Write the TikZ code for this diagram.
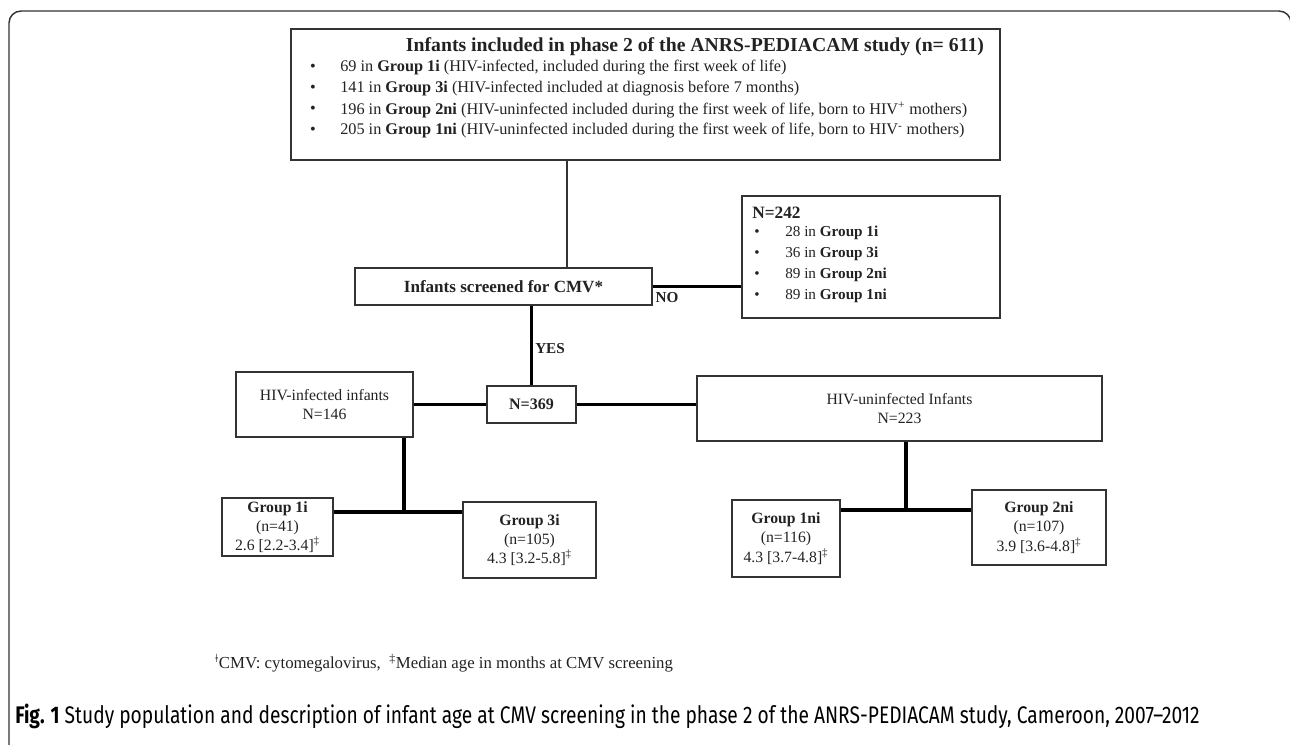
\documentclass[tikz,border=0pt]{standalone}
\usepackage{fontspec}
\setmainfont{Liberation Serif}
\newfontfamily\capfont[FakeStretch=0.80]{Fira Sans}
\usetikzlibrary{fit,calc}
\definecolor{ink}{HTML}{222222}
\definecolor{edge}{HTML}{333333}
\begin{document}
\begin{tikzpicture}[x=0.75pt,y=-0.75pt,
  box/.style={draw=edge,line width=1.1pt,inner sep=0pt},
  txt/.style={text=ink,inner sep=0pt,font=\fontsize{11.4}{14}\selectfont},
  toptxt/.style={txt,font=\fontsize{12.2}{15}\selectfont},
  bold/.style={txt,font=\fontsize{11.4}{14}\selectfont\bfseries},
  grp/.style={txt,align=center,font=\fontsize{11.8}{14.4}\selectfont},
  thinline/.style={draw=edge,line width=1.1pt},
  thickline/.style={draw=black,line width=2.6pt}]
\useasboundingbox (0,0) rectangle (1290,744);
% outer frame
\draw[draw=edge,line width=1.1pt,rounded corners=9pt] (9,760) -- (9,11) -- (1291,11) -- (1291,760);
% boxes
\node[box,fit={(291,29) (1000,160)}] (top) {};
\node[box,fit={(355,268) (652,305)}] (cmv) {};
\node[box,fit={(742,196) (1000,318)}] (n242) {};
\node[box,fit={(487,386) (576,423)}] (n369) {};
\node[box,fit={(236,372) (413,437)}] (hivi) {};
\node[box,fit={(697,376) (1102,441)}] (hivu) {};
\node[box,fit={(222,498) (333,556)}] (g1i) {};
\node[box,fit={(463,502) (596,578)}] (g3i) {};
\node[box,fit={(732,500) (840,577)}] (g1ni) {};
\node[box,fit={(972,490) (1106,565)}] (g2ni) {};
% top box text
\node[txt,font=\fontsize{14.8}{17}\selectfont\bfseries] (title) at (695,47) {Infants included in phase 2 of the ANRS-PEDIACAM study (n= 611)};
\foreach \i/\y in {1/68,2/89,3/110,4/131}{\node[toptxt] (dot\i) at (313,\y) {\textbullet};}
\node[toptxt,anchor=west] (b1) at (340,68) {69 in \textbf{Group 1i} (HIV-infected, included during the first week of life)};
\node[toptxt,anchor=west] (b2) at (340,89) {141 in \textbf{Group 3i} (HIV-infected included at diagnosis before 7 months)};
\node[toptxt,anchor=west] (b3) at (340,110) {196 in \textbf{Group 2ni} (HIV-uninfected included during the first week of life, born to HIV\textsuperscript{+} mothers)};
\node[toptxt,anchor=west] (b4) at (340,131) {205 in \textbf{Group 1ni} (HIV-uninfected included during the first week of life, born to HIV\textsuperscript{-} mothers)};
% CMV box
\node[bold,font=\fontsize{12.8}{15}\selectfont\bfseries] (cmvt) at (cmv.center) {Infants screened for CMV*};
% N=242 box
\node[bold,anchor=west,font=\fontsize{13}{15}\selectfont\bfseries] (n242t) at (752,213) {N=242};
\foreach \i/\y in {1/233,2/254,3/275,4/296}{\node[txt] (ndot\i) at (757,\y) {\textbullet};}
\node[txt,anchor=west] (m1) at (785,233) {28 in \textbf{Group 1i}};
\node[txt,anchor=west] (m2) at (785,254) {36 in \textbf{Group 3i}};
\node[txt,anchor=west] (m3) at (785,275) {89 in \textbf{Group 2ni}};
\node[txt,anchor=west] (m4) at (785,296) {89 in \textbf{Group 1ni}};
% middle boxes text
\node[bold,font=\fontsize{12}{14}\selectfont\bfseries] (n369t) at (n369.center) {N=369};
\node[grp] (hivit) at (hivi.center) {HIV-infected infants\\N=146};
\node[grp] (hivut) at (hivu.center) {HIV-uninfected Infants\\N=223};
\node[grp] (g1it) at (g1i.center) {\textbf{Group 1i}\\(n=41)\\2.6 [2.2-3.4]\textsuperscript{‡}};
\node[grp] (g3it) at (g3i.center) {\textbf{Group 3i}\\(n=105)\\4.3 [3.2-5.8]\textsuperscript{‡}};
\node[grp] (g1nit) at (g1ni.center) {\textbf{Group 1ni}\\(n=116)\\4.3 [3.7-4.8]\textsuperscript{‡}};
\node[grp] (g2nit) at (g2ni.center) {\textbf{Group 2ni}\\(n=107)\\3.9 [3.6-4.8]\textsuperscript{‡}};
% connectors
\coordinate (vx) at (567,0);
\draw[thinline] (top.south -| vx) -- (cmv.north -| vx);
\draw[thickline] (cmv.east) -- (cmv.east -| n242.west);
\node[bold] (no) at (667,298) {NO};
\draw[thickline] (n369.north) -- (n369.north |- cmv.south);
\node[bold,anchor=west] (yes) at (535,349) {YES};
\draw[thickline] (hivi.east) -- (n369.west);
\draw[thickline] (n369.east) -- (n369.east -| hivu.west);
\coordinate (jl) at (404,512);
\coordinate (jr) at (906,510);
\draw[thickline] (hivi.south -| jl) -- (jl);
\draw[thickline] (g1i.east |- jl) -- (g3i.west |- jl);
\draw[thickline] (hivu.south -| jr) -- (jr);
\draw[thickline] (g1ni.east |- jr) -- (g2ni.west |- jr);
% footnote and caption
\node[txt,anchor=west,font=\fontsize{12.6}{15}\selectfont] (foot) at (215,663) {\textsuperscript{ǂ}CMV: cytomegalovirus, \ \textsuperscript{‡}Median age in months at CMV screening};
\node[txt,anchor=west,text=black,font=\capfont\fontsize{18}{20}\selectfont] (cap) at (15,716) {\textbf{Fig. 1} Study population and description of infant age at CMV screening in the phase 2 of the ANRS-PEDIACAM study, Cameroon, 2007–2012};
\end{tikzpicture}
\end{document}
